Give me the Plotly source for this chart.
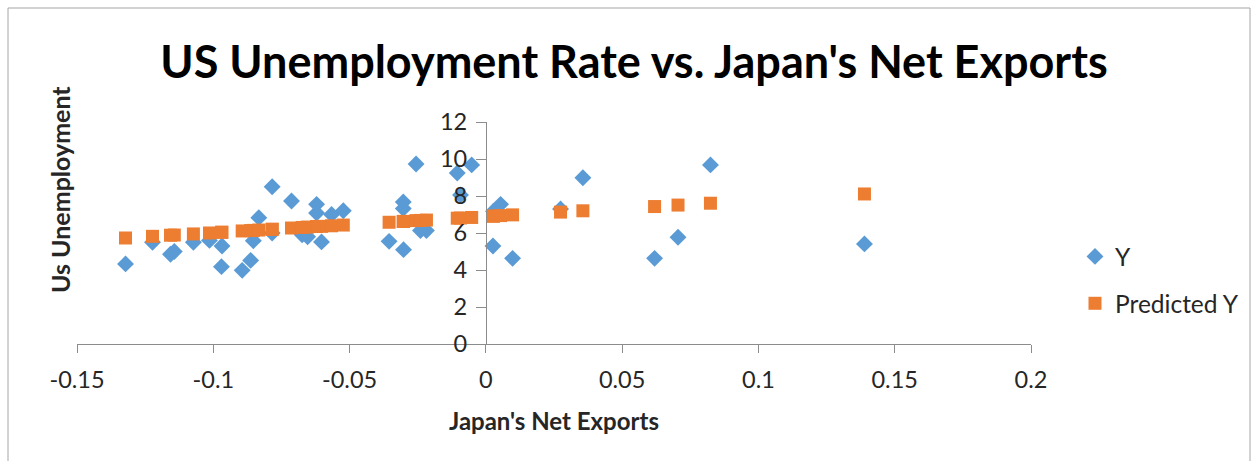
import plotly.graph_objects as go

# Data
japan_net_exports = [
    -0.1322, -0.1223, -0.1157, -0.1143, -0.1073, -0.1014, -0.0970, -0.0968,
    -0.0894, -0.0863, -0.0853, -0.0833, -0.0784, -0.0784, -0.0713, -0.0674,
    -0.0654, -0.0621, -0.0621, -0.0603, -0.0566, -0.0523, -0.0355, -0.0303,
    -0.0303, -0.0302, -0.0256, -0.0240, -0.0218, -0.0105, -0.0093, -0.0052,
    0.0026, 0.0028, 0.0054, 0.0098, 0.0274, 0.0356, 0.0619, 0.0705,
    0.0824, 0.1389,
]
us_unemployment = [
    4.33, 5.50, 4.85, 5.00, 5.50, 5.60, 4.18, 5.30,
    3.98, 4.52, 5.58, 6.83, 8.50, 6.00, 7.73, 5.90,
    5.80, 7.55, 7.08, 5.52, 7.00, 7.20, 5.55, 7.68,
    7.32, 5.10, 9.73, 6.13, 6.13, 9.24, 8.05, 9.68,
    5.30, 7.18, 7.55, 4.63, 7.30, 8.99, 4.63, 5.77,
    9.68, 5.41,
]
predicted_y = [
    5.73, 5.82, 5.88, 5.89, 5.95, 6.00, 6.04, 6.04,
    6.11, 6.13, 6.14, 6.16, 6.20, 6.20, 6.27, 6.30,
    6.32, 6.35, 6.35, 6.36, 6.39, 6.43, 6.58, 6.62,
    6.62, 6.63, 6.67, 6.68, 6.70, 6.80, 6.81, 6.84,
    6.91, 6.91, 6.94, 6.98, 7.13, 7.20, 7.43, 7.51,
    7.61, 8.11,
]
x_ticks = [-0.15, -0.1, -0.05, 0, 0.05, 0.1, 0.15, 0.2]
x_tick_labels = ["-0.15", "-0.1", "-0.05", "0", "0.05", "0.1", "0.15", "0.2"]
y_ticks = [0, 2, 4, 6, 8, 10, 12]

W, H = 1258, 461
L, R, T, B = 77, 227, 122, 117
PW, PH = W - L - R, H - T - B

def px(x):
    return (x - L) / PW

def py(y):
    return (H - B - y) / PH

FONT = "Lato, Open Sans, sans-serif"
TXT = "#262626"
AX = "#8c8c8c"

fig = go.Figure()
fig.add_trace(go.Scatter(
    x=japan_net_exports, y=us_unemployment, mode="markers", name="Y",
    marker=dict(symbol="diamond", size=13, color="#5B9BD5"),
    legendgroup="a",
))
fig.add_trace(go.Scatter(
    x=japan_net_exports, y=predicted_y, mode="markers", name="Predicted Y",
    marker=dict(symbol="square", size=13, color="#ED7D31"),
    legendgroup="b",
))

fig.update_layout(
    width=W, height=H,
    margin=dict(l=L, r=R, t=T, b=B),
    paper_bgcolor="white", plot_bgcolor="white",
    font=dict(family=FONT, size=23.5, color=TXT),
    title=dict(text="<b>US Unemployment Rate vs. Japan's Net Exports</b>",
               xref="container", x=634 / W, xanchor="center",
               yref="container", y=1 - 62 / H, yanchor="middle",
               font=dict(size=45, color="black", family=FONT)),
    showlegend=True,
    legend=dict(x=px(1075), xanchor="left", y=py(234), yanchor="top",
                traceorder="grouped", tracegroupgap=12,
                font=dict(size=24.5, color=TXT), bgcolor="rgba(0,0,0,0)",
                itemwidth=30),
    xaxis=dict(range=[-0.15, 0.2], tickvals=x_ticks, ticktext=x_tick_labels,
               showgrid=False, zeroline=False, showline=True, linecolor=AX,
               linewidth=1, ticks="outside", ticklen=8, tickcolor=AX,
               ticklabelstandoff=7,
               tickfont=dict(size=23.5, color=TXT)),
    yaxis=dict(range=[0, 12], tickvals=y_ticks, showgrid=False,
               zeroline=False, showline=True, linecolor=AX, linewidth=1,
               ticks="outside", ticklen=10, tickcolor=AX,
               ticklabelstandoff=4,
               anchor="free", position=(0 + 0.15) / 0.35,
               tickfont=dict(size=23.5, color=TXT)),
    annotations=[
        dict(text="<b>Japan's Net Exports</b>", xref="paper", yref="paper",
             x=px(554), y=py(420), xanchor="center", yanchor="middle",
             showarrow=False, font=dict(size=24, color=TXT)),
        dict(text="<b>Us Unemployment</b>", xref="paper", yref="paper",
             x=px(60), y=py(190), xanchor="center", yanchor="middle",
             textangle=-90, showarrow=False, font=dict(size=25, color=TXT)),
    ],
    shapes=[
        dict(type="rect", xref="paper", yref="paper",
             x0=px(8), x1=px(1250), y0=py(470), y1=py(8),
             line=dict(color="#a6a6a6", width=1), fillcolor="rgba(0,0,0,0)",
             layer="below"),
    ],
)

fig.write_html("out.html")
